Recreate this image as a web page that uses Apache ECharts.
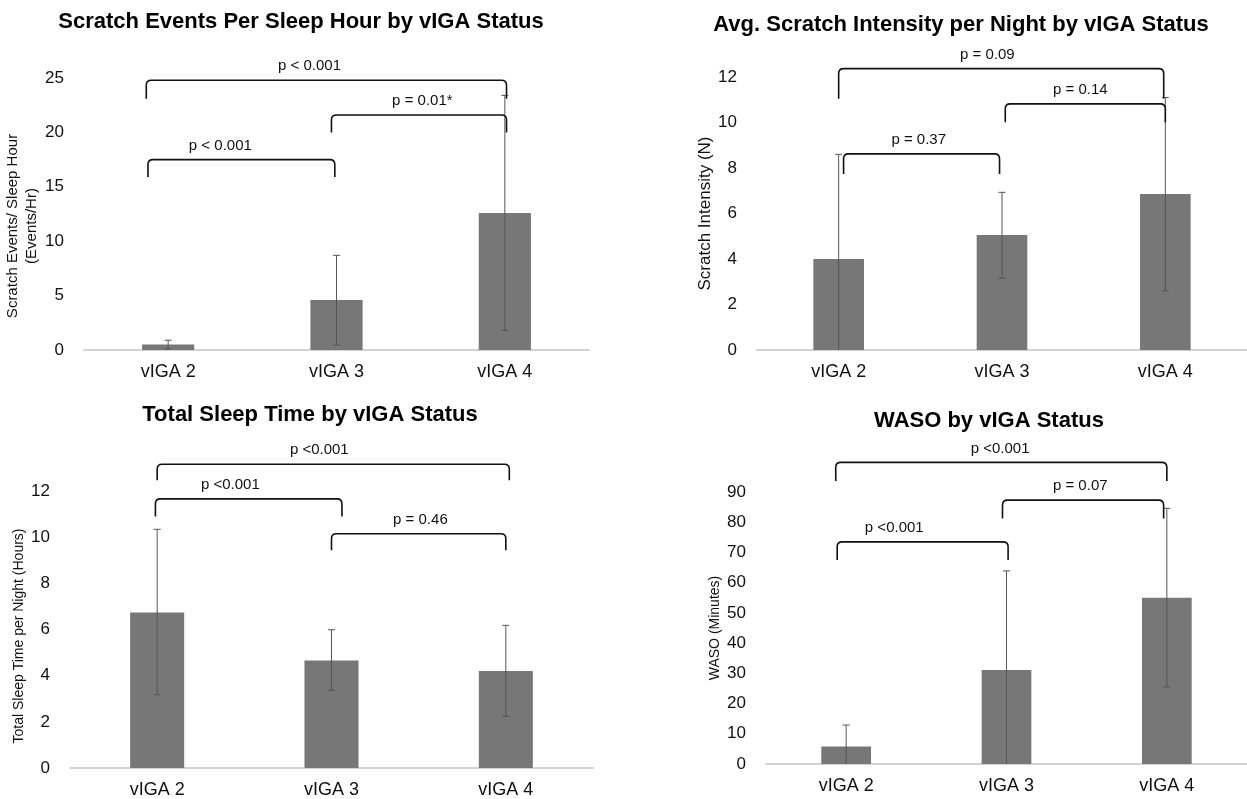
<!DOCTYPE html>
<html><head><meta charset="utf-8">
<script src="https://cdn.jsdelivr.net/npm/echarts@6/dist/echarts.min.js"></script>
<style>html,body{margin:0;padding:0;background:#fff}#c{width:1247px;height:799px}</style>
</head><body><div id="c"></div>
<script>
const categories = ['vIGA 2', 'vIGA 3', 'vIGA 4'];

// Panel A: Scratch events per sleep hour
const scratchEvents = [0.5, 4.6, 12.6];
const scratchEventsLow = [0.1, 0.45, 1.8];
const scratchEventsHigh = [0.9, 8.7, 23.4];
const scratchEventsTicks = [0, 25, 5];
// bracket: [xStart, xEnd, yTop, yTail, labelX]
const scratchEventsBrackets = [[-0.13, 2.01, 24.8, 23.1, 0.84], [0.97, 2.01, 21.6, 20.0, 1.51], [-0.12, 0.99, 17.5, 15.9, 0.31]];
const scratchEventsP = ['p < 0.001', 'p = 0.01*', 'p < 0.001'];

// Panel B: scratch intensity
const intensity = [4.0, 5.05, 6.86];
const intensityLow = [0, 3.16, 2.6];
const intensityHigh = [8.6, 6.93, 11.1];
const intensityTicks = [0, 12, 2];
const intensityBrackets = [[0.0, 1.99, 12.37, 11.04, 0.91], [1.02, 2.0, 10.82, 10.01, 1.48], [0.03, 0.985, 8.62, 7.74, 0.49]];
const intensityP = ['p = 0.09', 'p = 0.14', 'p = 0.37'];

// Panel C: total sleep time
const sleepTime = [6.74, 4.66, 4.2];
const sleepTimeLow = [3.17, 3.37, 2.24];
const sleepTimeHigh = [10.34, 5.99, 6.18];
const sleepTimeTicks = [0, 12, 2];
const sleepTimeBrackets = [[0.0, 2.02, 13.16, 12.47, 0.93], [-0.01, 1.06, 11.66, 10.9, 0.42], [1.0, 2.0, 10.15, 9.43, 1.51]];
const sleepTimeP = ['p <0.001', 'p <0.001', 'p = 0.46'];

// Panel D: WASO
const waso = [5.8, 31.1, 55.0];
const wasoLow = [0, 0, 25.5];
const wasoHigh = [12.9, 63.9, 84.6];
const wasoTicks = [0, 90, 10];
const wasoBrackets = [[-0.065, 2.0, 99.8, 93.6, 0.96], [0.975, 1.98, 87.3, 81.2, 1.46], [-0.056, 1.01, 73.5, 67.5, 0.3]];
const wasoP = ['p <0.001', 'p = 0.07', 'p <0.001'];

const FONT = 'Arial, "Liberation Sans", sans-serif';

const panels = [
  {title: 'Scratch Events Per Sleep Hour by vIGA Status', tx: 296, ty: 6, yName: 'Scratch Events/ Sleep Hour\n(Events/Hr)', nameSize: 15, nameLH: 19, nameGap: 31, namePad: [0, 24, 0, 0],
   grid: {left: 84, top: 78, width: 505, height: 272}, vals: scratchEvents, lo: scratchEventsLow, hi: scratchEventsHigh, ticks: scratchEventsTicks, br: scratchEventsBrackets, p: scratchEventsP},
  {title: 'Avg. Scratch Intensity per Night by vIGA Status', tx: 956, ty: 9, yName: 'Scratch Intensity (N)', nameSize: 17, nameLH: 17, nameGap: 41, namePad: [0, 0, 0, 0],
   grid: {left: 757, top: 77, width: 501, height: 273}, vals: intensity, lo: intensityLow, hi: intensityHigh, ticks: intensityTicks, br: intensityBrackets, p: intensityP},
  {title: 'Total Sleep Time by vIGA Status', tx: 305, ty: 399, yName: 'Total Sleep Time per Night (Hours)', nameSize: 14, nameLH: 17, nameGap: 39, namePad: [0, 13, 0, 0],
   grid: {left: 70, top: 491, width: 523, height: 279}, vals: sleepTime, lo: sleepTimeLow, hi: sleepTimeHigh, ticks: sleepTimeTicks, br: sleepTimeBrackets, p: sleepTimeP},
  {title: 'WASO by vIGA Status', tx: 984, ty: 405, yName: 'WASO (Minutes)', nameSize: 14, nameLH: 17, nameGap: 36, namePad: [0, 0, 0, 0],
   grid: {left: 766, top: 492, width: 486, height: 272}, vals: waso, lo: wasoLow, hi: wasoHigh, ticks: wasoTicks, br: wasoBrackets, p: wasoP}
];

const option = {
  backgroundColor: '#fff',
  animation: false,
  title: [], grid: [], xAxis: [], yAxis: [], series: []
};

panels.forEach((pn, i) => {
  option.title.push({text: pn.title, left: pn.tx, top: pn.ty, textAlign: 'center',
    textStyle: {fontFamily: FONT, fontSize: 22, fontWeight: 'bold', color: '#000'}});
  option.grid.push(Object.assign({containLabel: false}, pn.grid));
  option.xAxis.push({type: 'category', gridIndex: i, data: categories,
    axisLine: {lineStyle: {color: '#d3d3d3', width: 2}}, axisTick: {show: false},
    axisLabel: {fontFamily: FONT, fontSize: 18, color: '#111', margin: 13}});
  option.yAxis.push({type: 'value', gridIndex: i, min: pn.ticks[0], max: pn.ticks[1], interval: pn.ticks[2],
    axisLine: {show: false}, axisTick: {show: false}, splitLine: {show: false},
    axisLabel: {fontFamily: FONT, fontSize: 17, color: '#111', margin: 20},
    name: pn.yName, nameLocation: 'middle', nameGap: pn.nameGap, nameRotate: 90,
    nameTextStyle: {fontFamily: FONT, fontSize: pn.nameSize, color: '#111', lineHeight: pn.nameLH, padding: pn.namePad}});
});
panels.forEach((pn, i) => {
  option.xAxis.push({type: 'value', gridIndex: i, min: -0.5, max: 2.5, show: false});
});

panels.forEach((pn, i) => {
  option.series.push({type: 'bar', xAxisIndex: i, yAxisIndex: i, data: pn.vals, barWidth: '31%',
    itemStyle: {color: '#777777'}, silent: true});
  option.series.push({type: 'custom', xAxisIndex: i, yAxisIndex: i,
    data: pn.vals.map((v, k) => [k, pn.lo[k], pn.hi[k]]),
    renderItem: function (params, api) {
      const x = api.value(0);
      const lo = api.value(1), hi = api.value(2);
      const pLo = api.coord([x, lo]);
      const pHi = api.coord([x, hi]);
      const cw = 3.5;
      const st = {stroke: '#555', lineWidth: 1};
      const children = [
        {type: 'line', shape: {x1: pHi[0], y1: pHi[1], x2: pLo[0], y2: pLo[1]}, style: st},
        {type: 'line', shape: {x1: pHi[0] - cw, y1: pHi[1], x2: pHi[0] + cw, y2: pHi[1]}, style: st}
      ];
      if (lo > 0) children.push({type: 'line', shape: {x1: pLo[0] - cw, y1: pLo[1], x2: pLo[0] + cw, y2: pLo[1]}, style: st});
      return {type: 'group', children: children};
    }, z: 5, silent: true});
  option.series.push({type: 'custom', xAxisIndex: 4 + i, yAxisIndex: i, clip: false,
    data: pn.br,
    renderItem: function (params, api) {
      const a = api.coord([api.value(0), api.value(2)]);
      const b = api.coord([api.value(1), api.value(2)]);
      const ta = api.coord([api.value(0), api.value(3)]);
      const lab = api.coord([api.value(4), api.value(2)]);
      const r = 5;
      const y = a[1], yt = ta[1];
      const path = 'M' + a[0] + ' ' + yt + ' L' + a[0] + ' ' + (y + r) + ' Q' + a[0] + ' ' + y + ' ' + (a[0] + r) + ' ' + y +
        ' L' + (b[0] - r) + ' ' + y + ' Q' + b[0] + ' ' + y + ' ' + b[0] + ' ' + (y + r) + ' L' + b[0] + ' ' + yt;
      return {type: 'group', children: [
        {type: 'path', shape: {pathData: path}, style: {stroke: '#111', lineWidth: 1.6, fill: null}},
        {type: 'text', x: lab[0], y: y - 14, style: {text: pn.p[params.dataIndex], fontFamily: FONT, fontSize: 15, fill: '#111', align: 'center', verticalAlign: 'middle'}}
      ]};
    }, z: 6, silent: true});
});

const chart = echarts.init(document.getElementById('c'), null, {renderer: 'canvas'});
chart.setOption(option);
</script></body></html>
